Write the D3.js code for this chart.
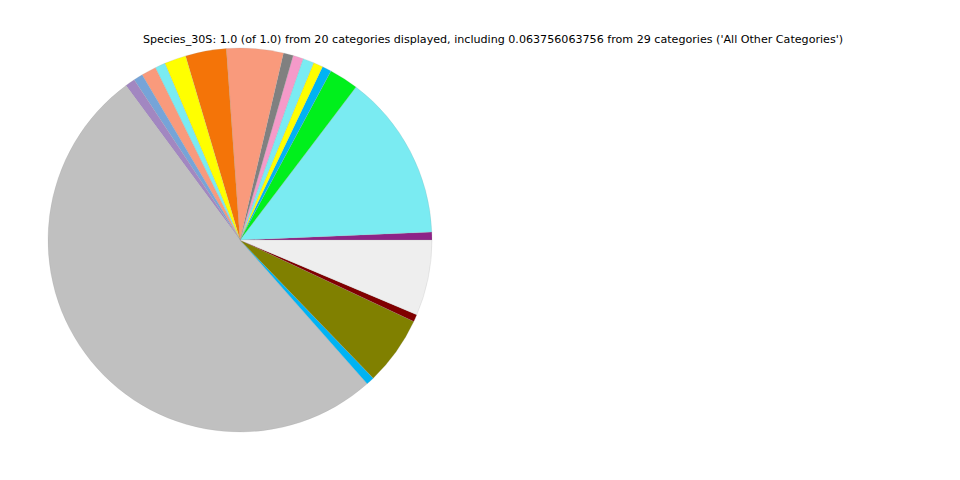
<!DOCTYPE html>
<html><head><meta charset="utf-8">
<script src="https://cdn.jsdelivr.net/npm/d3@7"></script>
<style>body{margin:0;background:#fff}svg{display:block}</style>
</head><body>
<svg id="c" width="960" height="480"></svg>
<script>
const categories = ["c1","c2","c3","c4","c5","c6","c7","c8","c9","c10","c11","c12","c13","c14","c15","c16","c17","c18","c19","All Other Categories"];
const values = [0.0066,0.1403,0.0247,0.0078,0.0081,0.0094,0.0086,0.0083,0.0478,0.0344,0.0183,0.0086,0.0125,0.0078,0.0083,0.5144,0.0069,0.0581,0.0061,0.063756063756];
const colors = ["#8d2387","#7aebf2","#00f01c","#00b3f3","#ffff00","#7aebf2","#f59ac9","#808080","#f99a7c","#f47408","#ffff00","#7aebf2","#f99a7c","#76a4d8","#a287c1","#c0c0c0","#00b3f3","#808000","#800000","#eeeeee"];
const title = "Species_30S: 1.0 (of 1.0) from 20 categories displayed, including 0.063756063756 from 29 categories ('All Other Categories')";

const svg = d3.select("#c");
svg.append("text").attr("x",493).attr("y",43).attr("text-anchor","middle")
  .attr("font-family","DejaVu Sans").attr("font-size",11.12).attr("fill","#000").text(title);

const data = categories.map((c,i)=>({c, v: values[i], col: colors[i]}));
// matplotlib: start at east, counterclockwise. d3 angles: 0 at north, clockwise.
const pie = d3.pie().value(d=>d.v).sort(null).startAngle(Math.PI/2).endAngle(Math.PI/2 - 2*Math.PI);
const arc = d3.arc().innerRadius(0).outerRadius(192);
const g = svg.append("g").attr("transform","translate(240,240)");
g.selectAll("path").data(pie(data)).join("path")
  .attr("d",arc).attr("fill",d=>d.data.col)
  .attr("stroke","#999").attr("stroke-width",0.3).attr("stroke-opacity",0.6);
</script>
</body></html>
